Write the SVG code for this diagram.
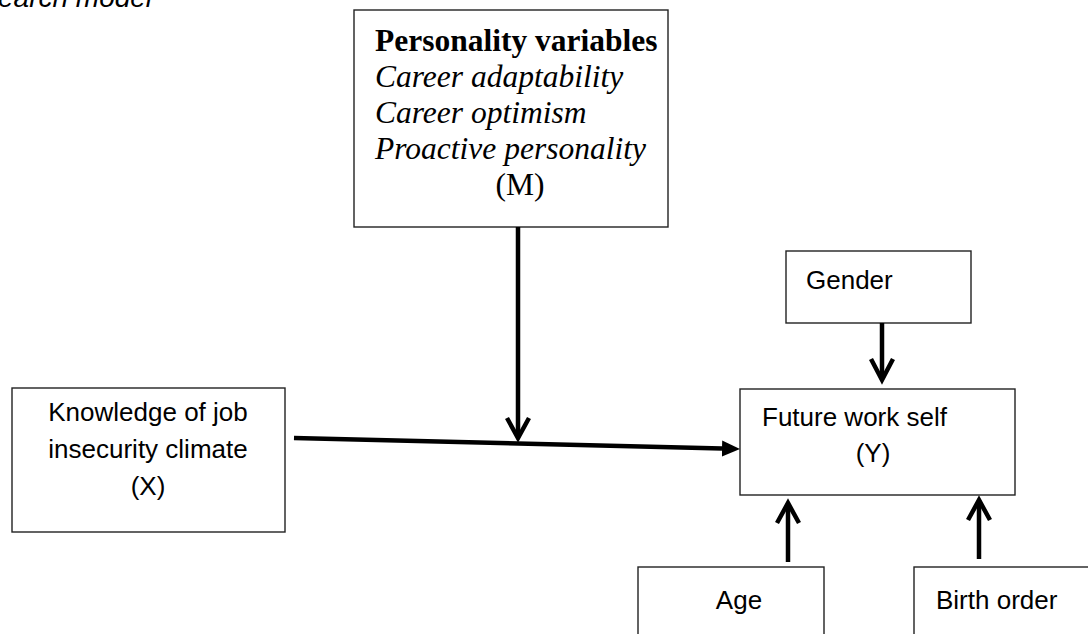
<svg xmlns="http://www.w3.org/2000/svg" width="1088" height="634" viewBox="0 0 1088 634">
<style>
.box{fill:#fff;stroke:#222;stroke-width:1.4}
.sans{font-family:"Liberation Sans",Arial,sans-serif;font-size:26px;fill:#000}
.serif{font-family:"Liberation Serif","Times New Roman",serif;font-size:31.5px;fill:#000}
.ln{fill:none;stroke:#000;stroke-width:4.5}
.chev{fill:none;stroke:#000;stroke-width:4.5;stroke-linejoin:miter;stroke-linecap:butt}
</style>
<defs>
<marker id="tri" markerUnits="userSpaceOnUse" markerWidth="18" markerHeight="18" refX="0" refY="8" orient="auto" viewBox="0 0 18 16">
<path d="M0,0 L18,8 L0,16 Z" fill="#000"/>
</marker>
</defs>
<rect width="1088" height="634" fill="#fff"/>
<text x="-2" y="7" font-family="Liberation Sans,Arial,sans-serif" font-size="28" font-style="italic" fill="#000">earch model</text>
<g id="node-m">
<rect class="box" x="354" y="10" width="314" height="217"/>
<text class="serif" x="375" y="51" font-weight="bold">Personality variables</text>
<text class="serif" x="375" y="87" font-style="italic">Career adaptability</text>
<text class="serif" x="375" y="123" font-style="italic">Career optimism</text>
<text class="serif" x="375" y="159" font-style="italic">Proactive personality</text>
<text class="serif" x="520" y="195" text-anchor="middle">(M)</text>
</g>
<g id="node-x">
<rect class="box" x="12" y="388" width="273" height="144"/>
<text class="sans" x="148" y="421" text-anchor="middle">Knowledge of job</text>
<text class="sans" x="148" y="458" text-anchor="middle">insecurity climate</text>
<text class="sans" x="148" y="495" text-anchor="middle">(X)</text>
</g>
<g id="node-gender">
<rect class="box" x="786" y="251" width="185" height="72"/>
<text class="sans" x="806" y="289">Gender</text>
</g>
<g id="node-y">
<rect class="box" x="740" y="389" width="275" height="106"/>
<text class="sans" x="762" y="426">Future work self</text>
<text class="sans" x="873" y="462" text-anchor="middle">(Y)</text>
</g>
<g id="node-age">
<rect class="box" x="638" y="567" width="186" height="80"/>
<text class="sans" x="739" y="609" text-anchor="middle">Age</text>
</g>
<g id="node-birth">
<rect class="box" x="914" y="567" width="190" height="80"/>
<text class="sans" x="936" y="609">Birth order</text>
</g>
<g id="connectors">
<line class="ln" x1="294" y1="438" x2="722" y2="448.6" marker-end="url(#tri)"/>
<line class="ln" x1="518" y1="227" x2="518" y2="435"/>
<polyline class="chev" points="507,418 518,438 529,418"/>
<line class="ln" x1="882" y1="323" x2="882" y2="378"/>
<polyline class="chev" points="871,359 882,380 893,359"/>
<line class="ln" x1="788" y1="562" x2="788" y2="506"/>
<polyline class="chev" points="777,523 788,503 799,523"/>
<line class="ln" x1="979" y1="559" x2="979" y2="503"/>
<polyline class="chev" points="968,520 979,500 990,520"/>
</g>
</svg>
